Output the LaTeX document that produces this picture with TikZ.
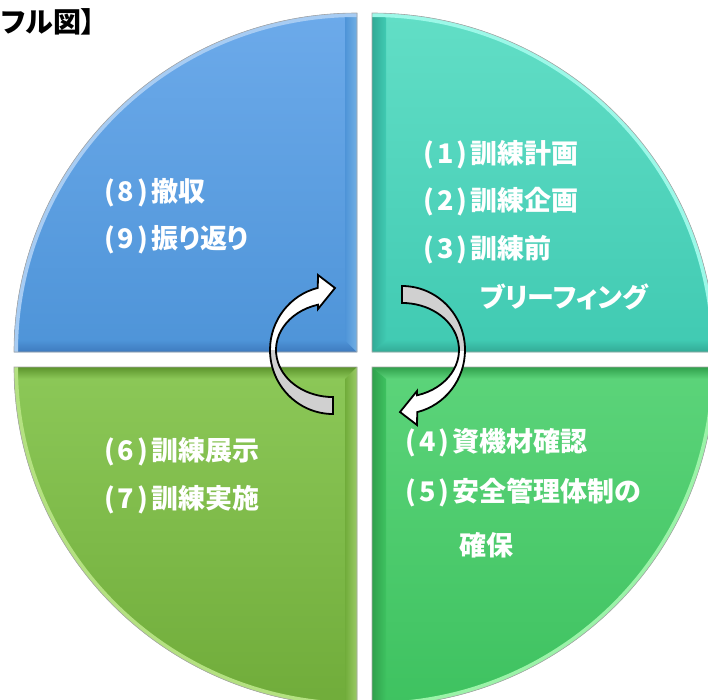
\documentclass[tikz,border=0pt]{standalone}
\usepackage{fontspec}
\newfontfamily\jp{Noto Sans CJK JP}[RawFeature=+palt]
\usetikzlibrary{calc}
\definecolor{tlA}{RGB}{108,170,234}
\definecolor{tlB}{RGB}{78,148,216}
\definecolor{tlL}{RGB}{200,240,255}
\definecolor{tlD}{RGB}{62,122,190}
\definecolor{trA}{RGB}{98,222,198}
\definecolor{trB}{RGB}{64,202,178}
\definecolor{trL}{RGB}{170,255,240}
\definecolor{trD}{RGB}{50,170,150}
\definecolor{brA}{RGB}{92,212,122}
\definecolor{brB}{RGB}{62,194,96}
\definecolor{brL}{RGB}{170,250,180}
\definecolor{brD}{RGB}{48,160,76}
\definecolor{blA}{RGB}{140,200,88}
\definecolor{blB}{RGB}{112,172,58}
\definecolor{blL}{RGB}{220,250,170}
\definecolor{blD}{RGB}{92,148,44}
\definecolor{arrgray}{RGB}{208,208,208}
\newcommand\pn[1]{(\kern3pt#1\kern3pt)\kern3.5pt}
\tikzset{
  qtext/.style={anchor=west, text=white, inner sep=0pt, font=\jp\bfseries\fontsize{27}{27}\selectfont},
  arrline/.style={draw=black, line width=1.8pt, line join=miter},
}
\def\qTL{(357,-352) -- (14,-352) arc[start angle=180,end angle=90,x radius=343,y radius=339] -- cycle}
\def\qTR{(372,-352) -- (372,-13) arc[start angle=90,end angle=0,x radius=343,y radius=339] -- cycle}
\def\qBL{(357,-367) -- (357,-706) arc[start angle=270,end angle=180,x radius=343,y radius=339] -- cycle}
\def\qBR{(372,-367) -- (715,-367) arc[start angle=0,end angle=-90,x radius=343,y radius=339] -- cycle}
\def\arrpath{(0,-64) arc[start angle=270,end angle=104,x radius=63,y radius=64] -- (-15,75) -- (2,62) -- (-15,41) -- (-15,45.3) arc[start angle=105.26,end angle=270,x radius=57,y radius=47] -- cycle}
\begin{document}
\begin{tikzpicture}[x=1pt,y=1pt]
\useasboundingbox (0,-699) rectangle (708,0);
\clip (0,-699) rectangle (708,0);
% ---------- quadrants ----------
% top-left
\shade[top color=tlA, bottom color=tlB] \qTL;
\begin{scope}
  \clip \qTL;
  \shade[top color=tlB, bottom color=tlD] (14,-352) -- (357,-352) -- (345,-340) -- (0,-340) -- cycle;
  \shade[left color=tlB, middle color=tlL, right color=tlB!70!tlL] (345,-340) -- (357,-352) -- (357,0) -- (345,0) -- cycle;
  \draw[tlA!60!white, line width=8pt] (14,-352) arc[start angle=180,end angle=90,x radius=343,y radius=339];
\end{scope}
\draw[gray!70, line width=0.6pt] \qTL;
% top-right
\shade[top color=trA, bottom color=trB] \qTR;
\begin{scope}
  \clip \qTR;
  \shade[top color=trB, bottom color=trD] (372,-352) -- (715,-352) -- (715,-340) -- (386,-340) -- cycle;
  \shade[left color=trD, middle color=trL, right color=trB] (372,-352) -- (386,-340) -- (386,0) -- (372,0) -- cycle;
  \draw[trL!80!trA, line width=8pt] (372,-13) arc[start angle=90,end angle=0,x radius=343,y radius=339];
\end{scope}
\draw[gray!70, line width=0.6pt] \qTR;
% bottom-left
\shade[top color=blA, bottom color=blB] \qBL;
\begin{scope}
  \clip \qBL;
  \shade[top color=blD, bottom color=blA] (14,-367) -- (357,-367) -- (345,-379) -- (0,-379) -- cycle;
  \shade[left color=blB, middle color=blL, right color=blB!60!blL] (345,-379) -- (357,-367) -- (357,-720) -- (345,-720) -- cycle;
  \draw[blL!50!blA, line width=8pt] (357,-706) arc[start angle=270,end angle=180,x radius=343,y radius=339];
\end{scope}
\draw[gray!70, line width=0.6pt] \qBL;
% bottom-right
\shade[top color=brA, bottom color=brB] \qBR;
\begin{scope}
  \clip \qBR;
  \shade[top color=brD, bottom color=brA] (372,-367) -- (715,-367) -- (715,-379) -- (386,-379) -- cycle;
  \shade[left color=brD, middle color=brL, right color=brB] (372,-367) -- (386,-379) -- (386,-720) -- (372,-720) -- cycle;
  \draw[brL!80!brA, line width=8pt] (715,-367) arc[start angle=0,end angle=-90,x radius=343,y radius=339];
\end{scope}
\draw[gray!70, line width=0.6pt] \qBR;
% ---------- title ----------
\node[anchor=west, inner sep=0pt, font=\jp\bfseries\fontsize{28}{28}\selectfont] (title) at (1,-22) {フル図】};
% ---------- texts ----------
\node[qtext] (t1) at (423,-155) {\pn{1}訓練計画};
\node[qtext] (t2) at (423,-202) {\pn{2}訓練企画};
\node[qtext] (t3) at (423,-250) {\pn{3}訓練前};
\node[qtext] (t3b) at (480,-297) {ブリーフィング};
\node[qtext] (t4) at (405,-443) {\pn{4}資機材確認};
\node[qtext] (t5) at (405,-493) {\pn{5}安全管理体制の};
\node[qtext] (t5b) at (459,-545) {確保};
\node[qtext] (t8) at (104,-193) {\pn{8}撤収};
\node[qtext] (t9) at (104,-240) {\pn{9}振り返り};
\node[qtext] (t6) at (104,-452) {\pn{6}訓練展示};
\node[qtext] (t7) at (104,-500) {\pn{7}訓練実施};
% ---------- circular arrows ----------
\begin{scope}[shift={(333,-350)}]
  \fill[white] \arrpath;
  \begin{scope}
    \clip (-80,0) rectangle (20,-80);
    \fill[arrgray] \arrpath;
  \end{scope}
  \draw[arrline] \arrpath;
\end{scope}
\begin{scope}[shift={(402,-350)}, rotate=180]
  \fill[white] \arrpath;
  \begin{scope}
    \clip (-80,0) rectangle (20,-80);
    \fill[arrgray] \arrpath;
  \end{scope}
  \draw[arrline] \arrpath;
\end{scope}
\end{tikzpicture}
\end{document}
